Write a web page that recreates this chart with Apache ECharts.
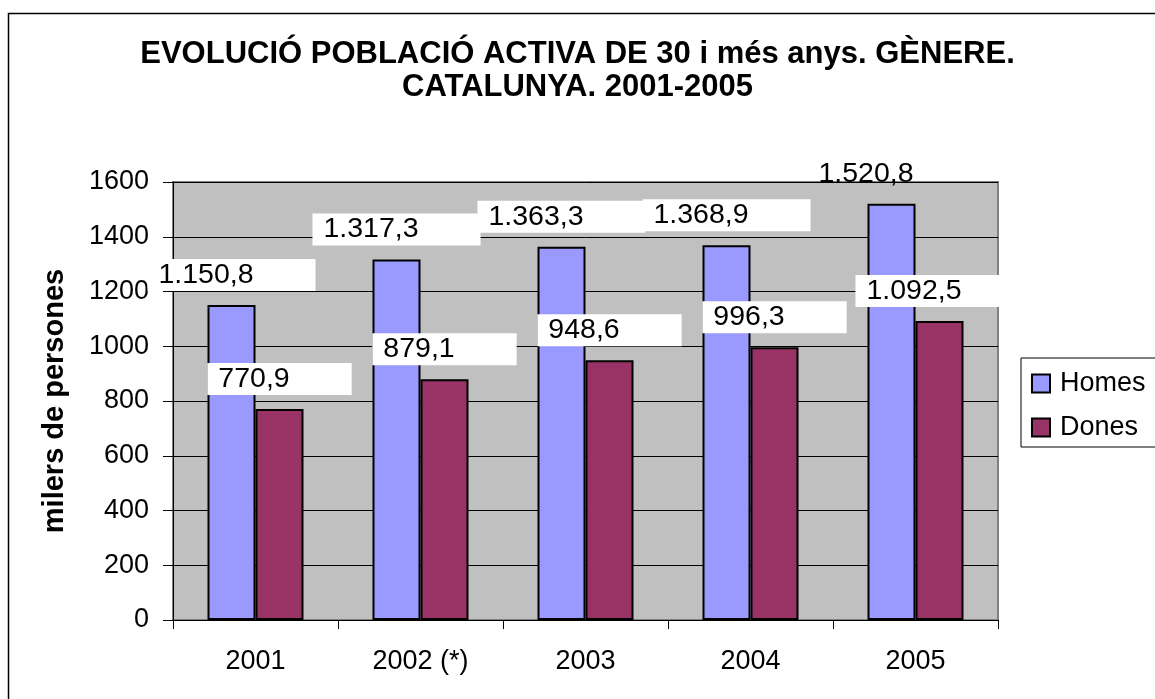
<!DOCTYPE html>
<html>
<head>
<meta charset="utf-8">
<script src="https://cdn.jsdelivr.net/npm/echarts@6/dist/echarts.min.js"></script>
<style>html,body{margin:0;padding:0;background:#fff}#c{width:1155px;height:699px}</style>
</head>
<body>
<div id="c"></div>
<script>
const categories = ['2001', '2002 (*)', '2003', '2004', '2005'];
const homes = [1150.8, 1317.3, 1363.3, 1368.9, 1520.8];
const dones = [770.9, 879.1, 948.6, 996.3, 1092.5];
const yTicks = [0, 200, 400, 600, 800, 1000, 1200, 1400, 1600];
const titleLines = ['EVOLUCIÓ POBLACIÓ ACTIVA DE 30 i més anys. GÈNERE.', 'CATALUNYA. 2001-2005'];

const FONT = '"Liberation Sans", Arial, sans-serif';

function fmt(v) {
  const parts = v.toFixed(1).split('.');
  const intPart = parts[0].replace(/\B(?=(\d{3})+(?!\d))/g, '.');
  return intPart + ',' + parts[1];
}

const labelStyle = {
  show: true,
  position: 'top',
  distance: 14,
  formatter: p => fmt(p.value),
  fontFamily: FONT,
  fontSize: 28.5,
  color: '#000',
  backgroundColor: '#fff',
  lineHeight: 28,
  padding: [2, 62, 2, 11]
};

const titleStyle = {
  fontFamily: FONT,
  fontSize: 31,
  fontWeight: 'bold',
  color: '#000',
  lineHeight: 33
};

const chart = echarts.init(document.getElementById('c'), null, { renderer: 'canvas' });
chart.setOption({
  backgroundColor: '#fff',
  animation: false,
  textStyle: { fontFamily: FONT },
  title: [
    { text: titleLines[0], left: 'center', top: 38, padding: 0, textStyle: titleStyle },
    { text: titleLines[1], left: 'center', top: 71, padding: 0, textStyle: titleStyle }
  ],
  legend: {
    left: 1021,
    top: 358,
    orient: 'vertical',
    data: ['Homes', 'Dones'],
    borderColor: '#000',
    borderWidth: 1,
    padding: [12, 20, 6, 10],
    itemWidth: 18,
    itemHeight: 18,
    itemGap: 17,
    icon: 'rect',
    itemStyle: { borderColor: '#000', borderWidth: 2 },
    textStyle: { fontFamily: FONT, fontSize: 27, color: '#000', padding: [0, 0, 0, 5] }
  },
  grid: {
    left: 173,
    top: 182,
    right: 157,
    bottom: 79,
    show: true,
    backgroundColor: '#C0C0C0',
    borderColor: '#808080',
    borderWidth: 2
  },
  xAxis: {
    type: 'category',
    data: categories,
    axisLine: { show: true, lineStyle: { color: '#000', width: 1 } },
    axisTick: { show: true, alignWithLabel: false, length: 9, lineStyle: { color: '#000' } },
    axisLabel: { fontFamily: FONT, fontSize: 27, color: '#000', margin: 28 },
    splitLine: { show: false }
  },
  yAxis: {
    type: 'value',
    min: 0,
    max: 1600,
    interval: 200,
    name: 'milers de persones',
    nameLocation: 'middle',
    nameRotate: 90,
    nameGap: 104,
    nameTextStyle: { fontFamily: FONT, fontSize: 29, fontWeight: 'bold', color: '#000' },
    axisLine: { show: true, lineStyle: { color: '#000', width: 1 } },
    axisTick: { show: true, length: 10, lineStyle: { color: '#000' } },
    axisLabel: {
      fontFamily: FONT, fontSize: 27, color: '#000', margin: 24,
      formatter: v => (yTicks.indexOf(v) >= 0 ? String(v) : '')
    },
    splitLine: { show: true, lineStyle: { color: '#000', width: 1 } }
  },
  series: [
    {
      name: 'Homes',
      type: 'bar',
      data: homes.map((v, i) => i === homes.length - 1
        ? { value: v, label: { backgroundColor: 'transparent' } }
        : v),
      barWidth: 48,
      barGap: '0%',
      itemStyle: { color: '#9999FF', borderColor: '#000', borderWidth: 2 },
      label: labelStyle
    },
    {
      name: 'Dones',
      type: 'bar',
      data: dones,
      barWidth: 48,
      barGap: '0%',
      itemStyle: { color: '#993366', borderColor: '#000', borderWidth: 2 },
      label: labelStyle
    }
  ],
  graphic: [
    {
      type: 'rect',
      silent: true,
      z: 100,
      shape: { x: 8.5, y: 13.5, width: 1160, height: 700 },
      style: { fill: 'none', stroke: '#000', lineWidth: 1.5 }
    }
  ]
});
</script>
</body>
</html>
